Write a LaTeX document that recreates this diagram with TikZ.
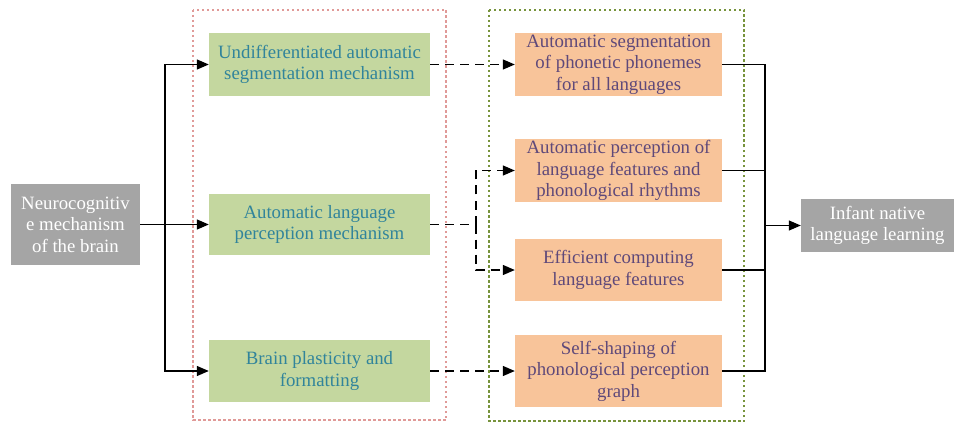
\documentclass[tikz,border=0pt]{standalone}
\usepackage{fontspec}
\setmainfont{Liberation Serif}
\usetikzlibrary{arrows.meta}
\definecolor{gbox}{HTML}{C4D79F}
\definecolor{obox}{HTML}{F8C49A}
\definecolor{greybox}{HTML}{A5A5A5}
\definecolor{gtext}{HTML}{31849B}
\definecolor{otext}{HTML}{5F497A}
\definecolor{reddash}{HTML}{E09A98}
\definecolor{greendash}{HTML}{77933C}
\begin{document}
\begin{tikzpicture}[x=1pt,y=-1pt,
  box/.style={inner sep=0pt,align=center,font=\fontsize{18.8}{21.5}\selectfont},
  greenbox/.style={box,fill=gbox,text=gtext},
  orangebox/.style={box,fill=obox,text=otext},
  greybx/.style={box,fill=greybox,text=white},
  conn/.style={draw=black,line width=1.3pt,-{Triangle[length=12pt,width=10pt]}},
  dconn/.style={conn,dash pattern=on 9pt off 6pt},
  plain/.style={draw=black,line width=1.3pt},
  dplain/.style={plain,dash pattern=on 9pt off 6pt},
  frame/.style={line width=1.4pt,dash pattern=on 2.5pt off 2.5pt}]
\useasboundingbox (0,0) rectangle (955,422);
% frames
\draw[frame,draw=reddash] (193,10) rectangle (446,420);
\draw[frame,draw=greendash] (489,10) rectangle (744,421);
% nodes
\node[greybx,minimum width=129pt,minimum height=81pt] (src) at (75.5,224.5) {Neurocognitiv\\e mechanism\\of the brain};
\node[greenbox,minimum width=221pt,minimum height=63pt] (g1) at (319.5,64.5) {Undifferentiated automatic\\segmentation mechanism};
\node[greenbox,minimum width=221pt,minimum height=61pt] (g2) at (319.5,224.5) {Automatic language\\perception mechanism};
\node[greenbox,minimum width=221pt,minimum height=62pt] (g3) at (319.5,371) {Brain plasticity and\\formatting};
\node[orangebox,minimum width=207pt,minimum height=63pt] (o1) at (618.5,64.5) {Automatic segmentation\\of phonetic phonemes\\for all languages};
\node[orangebox,minimum width=207pt,minimum height=63pt] (o2) at (618.5,170.5) {Automatic perception of\\language features and\\phonological rhythms};
\node[orangebox,minimum width=207pt,minimum height=62pt] (o3) at (618.5,270) {Efficient computing\\language features};
\node[orangebox,minimum width=207pt,minimum height=72pt] (o4) at (618.5,371) {Self-shaping of\\phonological perception\\graph};
\node[greybx,minimum width=153pt,minimum height=53pt] (dst) at (877.5,225.5) {Infant native\\language learning};
% coordinates
\coordinate (sj) at (165,224.5);
\coordinate (mj) at (476,224.5);
\coordinate (rj) at (765,225.5);
% left connectors
\draw[plain] (src.east) -- (sj);
\draw[conn] (sj) |- (g1.west);
\draw[conn] (sj) -- (g2.west);
\draw[conn] (sj) |- (g3.west);
% middle dashed connectors
\draw[dconn] (g1.east) -- (o1.west);
\draw[dplain] (g2.east) -- (mj);
\draw[dconn] (mj) |- (o2.west);
\draw[dconn] (mj) |- (o3.west);
\draw[dconn] (g3.east) -- (o4.west);
% right connectors
\draw[plain] (o1.east) -| (rj);
\draw[plain] (o2.east) -| (rj);
\draw[plain] (o3.east) -| (rj);
\draw[plain] (o4.east) -| (rj);
\draw[conn] (rj) -- (dst.west);
\end{tikzpicture}
\end{document}
